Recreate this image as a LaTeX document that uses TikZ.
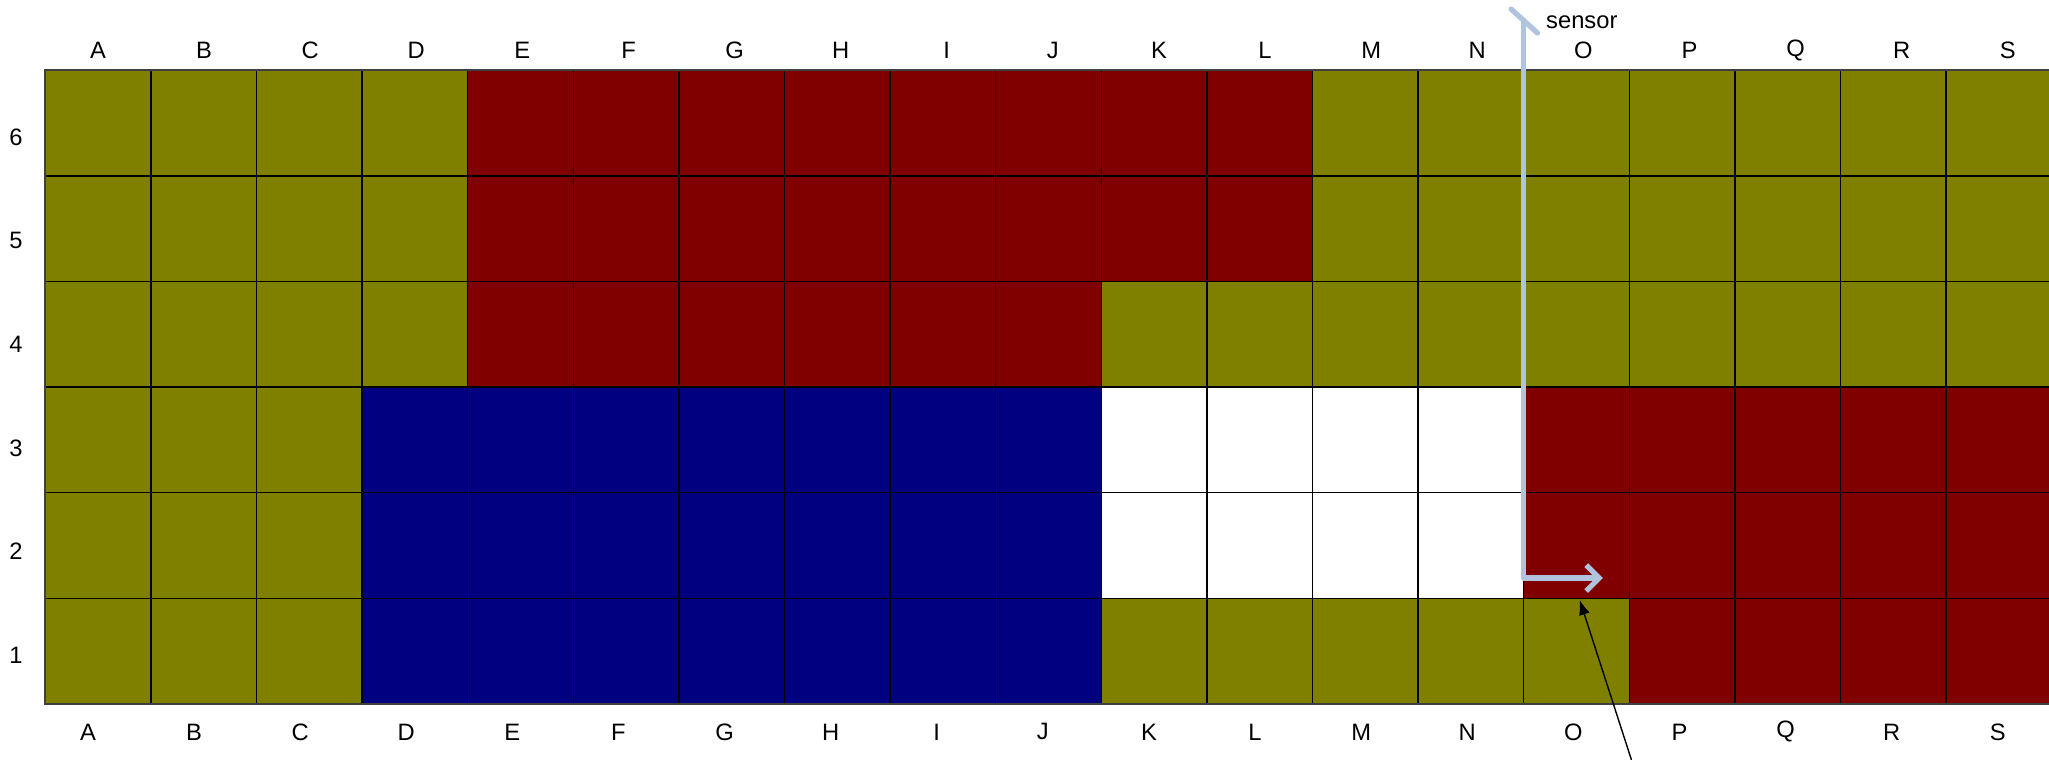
\documentclass[tikz,border=0pt]{standalone}
\usepackage{fontspec}
\setmainfont{Liberation Sans}
\usetikzlibrary{arrows.meta}
\definecolor{cellolive}{HTML}{808000}
\definecolor{cellmaroon}{HTML}{800000}
\definecolor{cellnavy}{HTML}{000080}
\definecolor{sensorblue}{HTML}{B0C4DE}
\begin{document}
\begin{tikzpicture}[x=1.056cm, y=1.056cm, font=\fontsize{6.75}{8}\selectfont,
    lbl/.style={inner sep=0pt},
    sensorline/.style={draw=sensorblue, line width=1.5pt, line cap=round, line join=round}]
      \useasboundingbox (-0.429,-0.524) rectangle (18.974,6.666);

      \fill[cellolive] (0,0) rectangle (19,6);
      \fill[cellmaroon] (4,4) rectangle (12,6);
      \fill[cellmaroon] (4,3) rectangle (10,4);
      \fill[cellnavy] (3,0) rectangle (10,3);
      \fill[white] (10,1) rectangle (14,3);
      \fill[cellmaroon] (14,1) rectangle (19,3);
      \fill[cellmaroon] (15,0) rectangle (19,1);
      \draw[black, line width=0.4pt, step=1.056cm] (0,0) grid (19,6);
      \draw[black!75, line width=0.6pt] (0,0) rectangle (19,6);

      \foreach \lab [count=\i from 0] in {A,B,C,D,E,F,G,H,I,J,K,L,M,N,O,P,Q,R,S} {
        \node[lbl] (top\lab) at ({0.499+1.0047*\i},6.19) {\lab};
        \node[lbl] (bot\lab) at ({0.404+1.0047*\i},-0.265) {\lab};
      }
      \foreach \r in {1,...,6} {
        \node[lbl] (row\r) at (-0.277,{0.463+0.981*(\r-1)}) {\r};
      }

      \node[lbl] (sensor) at (14.55,6.457) {sensor};
      \coordinate (tickA) at (13.88,6.58);
      \coordinate (tickB) at (14.13,6.353);
      \coordinate (sensortop) at (14,6.476);
      \coordinate (sensorbend) at (14,1.192);
      \coordinate (sensortip) at (14.75,1.192);
      \draw[sensorline] (tickA) -- (tickB);
      \draw[sensorline, -{Straight Barb[length=1.3mm, width=2.6mm]}] (sensortop) -- (sensorbend) -- (sensortip);

      \coordinate (pointerfoot) at (15.02,-0.53);
      \coordinate (pointertip) at (14.53,0.985);
      \draw[line width=0.4pt, -{Latex[length=1.5mm, width=1.1mm]}] (pointerfoot) -- (pointertip);
    \end{tikzpicture}
\end{document}
